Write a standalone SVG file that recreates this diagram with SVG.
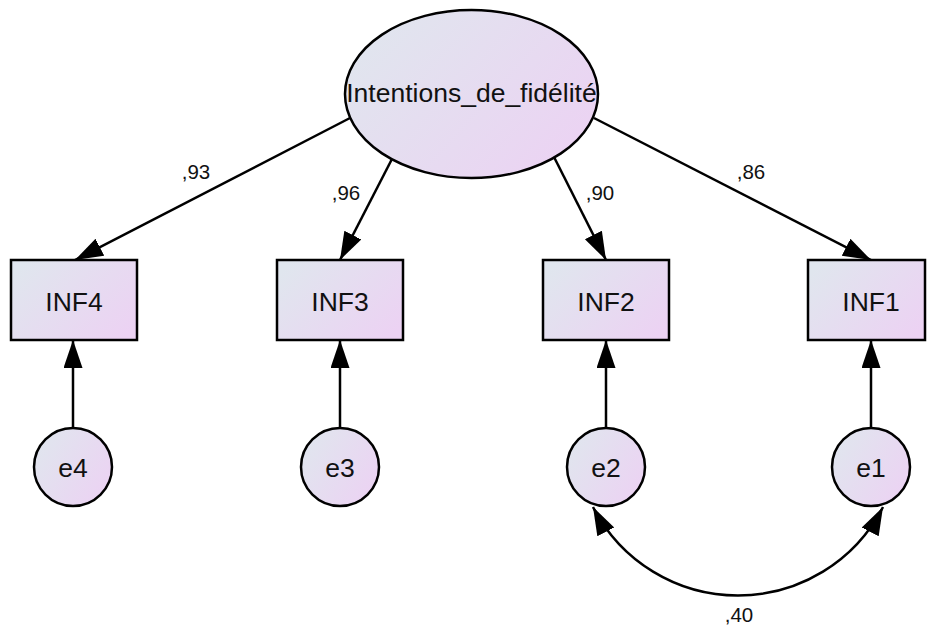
<svg xmlns="http://www.w3.org/2000/svg" width="927" height="626" viewBox="0 0 927 626">
<defs>
<linearGradient id="fill" x1="0" y1="0.2" x2="1" y2="0.8">
<stop offset="0" stop-color="#e0e6ee"/>
<stop offset="1" stop-color="#ecd2f3"/>
</linearGradient>
<marker id="ah" markerUnits="userSpaceOnUse" markerWidth="30" markerHeight="20" refX="28" refY="9.5" orient="auto-start-reverse" viewBox="0 0 30 20">
<path d="M0,0 L28,9.5 L0,19 z" fill="#000"/>
</marker>
<style>
.shape{fill:url(#fill);stroke:#000;stroke-width:2.5}
.lbl{font-family:"Liberation Sans",Arial,sans-serif;fill:#111;text-anchor:middle}
.big{font-size:26.5px}
.small{font-size:20.5px}
.conn{stroke:#000;stroke-width:2.5;fill:none}
</style>
</defs>
<rect width="927" height="626" fill="#fff"/>
<g id="connectors">
<line class="conn" x1="350" y1="118" x2="75" y2="260" marker-end="url(#ah)"/>
<line class="conn" x1="393" y1="157" x2="340" y2="260" marker-end="url(#ah)"/>
<line class="conn" x1="554" y1="157" x2="606" y2="260" marker-end="url(#ah)"/>
<line class="conn" x1="594" y1="118" x2="871" y2="260" marker-end="url(#ah)"/>
<line class="conn" x1="73" y1="428" x2="73" y2="340" marker-end="url(#ah)"/>
<line class="conn" x1="340" y1="428" x2="340" y2="340" marker-end="url(#ah)"/>
<line class="conn" x1="606" y1="428" x2="606" y2="340" marker-end="url(#ah)"/>
<line class="conn" x1="871" y1="428" x2="871" y2="340" marker-end="url(#ah)"/>
<path class="conn" d="M593,507 A163,163 0 0 0 883,507" marker-start="url(#ah)" marker-end="url(#ah)"/>
<text class="lbl small" x="196" y="179">,93</text>
<text class="lbl small" x="346" y="200">,96</text>
<text class="lbl small" x="600" y="200">,90</text>
<text class="lbl small" x="751" y="179">,86</text>
<text class="lbl small" x="739" y="622">,40</text>
</g>
<g id="Intentions_de_fidelite">
<ellipse class="shape" cx="471.5" cy="94" rx="126.5" ry="84"/>
<text class="lbl" x="471.5" y="102" font-size="26.5">Intentions_de_fidélité</text>
</g>
<g id="INF4">
<rect class="shape" x="11" y="260" width="126" height="80"/>
<text class="lbl big" x="74" y="311">INF4</text>
</g>
<g id="INF3">
<rect class="shape" x="277" y="260" width="126" height="80"/>
<text class="lbl big" x="340" y="311">INF3</text>
</g>
<g id="INF2">
<rect class="shape" x="543" y="260" width="126" height="80"/>
<text class="lbl big" x="606" y="311">INF2</text>
</g>
<g id="INF1">
<rect class="shape" x="808" y="260" width="117" height="80"/>
<text class="lbl big" x="871" y="311">INF1</text>
</g>
<g id="e4">
<circle class="shape" cx="73" cy="467" r="39"/>
<text class="lbl big" x="73" y="477">e4</text>
</g>
<g id="e3">
<circle class="shape" cx="340" cy="467" r="39"/>
<text class="lbl big" x="340" y="477">e3</text>
</g>
<g id="e2">
<circle class="shape" cx="606" cy="467" r="39"/>
<text class="lbl big" x="606" y="477">e2</text>
</g>
<g id="e1">
<circle class="shape" cx="871" cy="467" r="39"/>
<text class="lbl big" x="871" y="477">e1</text>
</g>
</svg>
